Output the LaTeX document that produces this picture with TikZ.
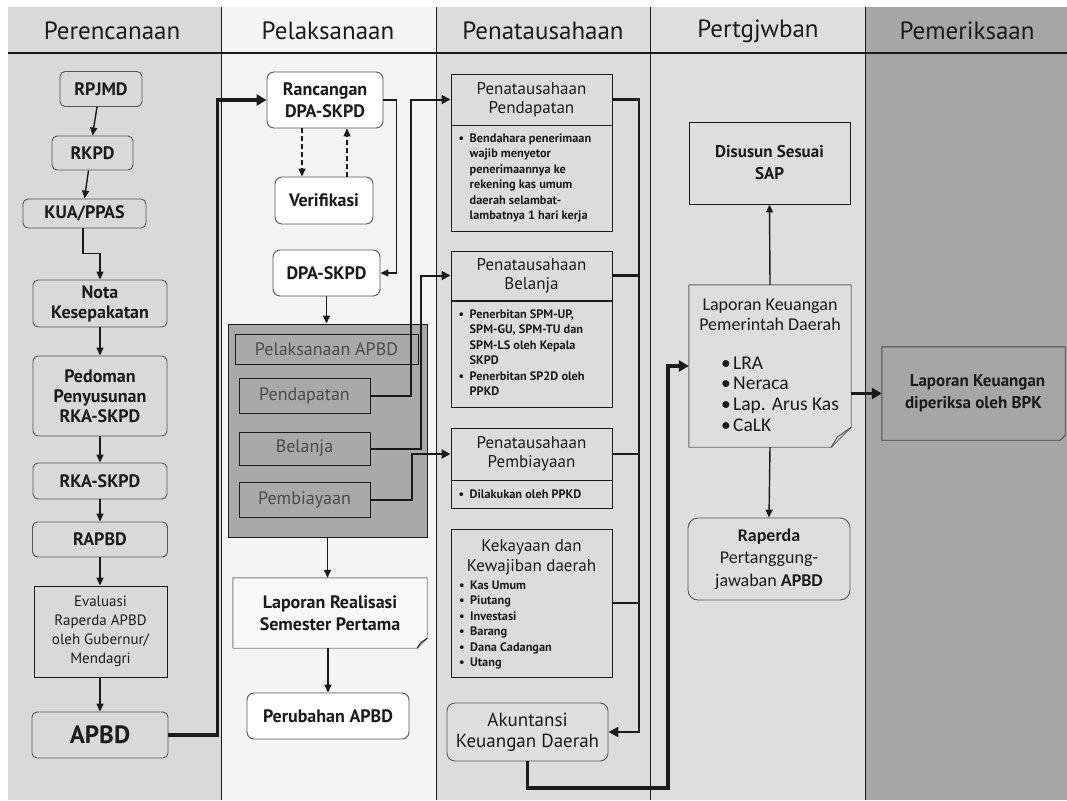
\documentclass[tikz,border=0pt]{standalone}
\usepackage{fontspec}
\setmainfont{PT Sans}
\newfontfamily\carl{Carlito}
\usetikzlibrary{arrows.meta,calc}
\pgfdeclarelayer{bg}
\pgfdeclarelayer{mid}
\pgfsetlayers{bg,mid,main}
\newcommand\fsz[2]{\fontsize{#1}{#2}\selectfont}
\newcommand\mybul{\makebox[11pt][l]{\textbullet}}
\newcommand\myind{\hspace*{11pt}}
\newcommand\lbul{\makebox[12pt][l]{\textbullet}}
\definecolor{cA}{HTML}{D9D9D9}
\definecolor{cB}{HTML}{F4F4F4}
\definecolor{cC}{HTML}{DCDCDC}
\definecolor{cD}{HTML}{DEDEDE}
\definecolor{cE}{HTML}{A6A6A6}
\definecolor{cP}{HTML}{A9A9A9}
\definecolor{tx}{HTML}{1A1A1A}
\definecolor{bd}{HTML}{555555}
\definecolor{gtx}{HTML}{4A4A4A}
\begin{document}
\begin{tikzpicture}[x=1pt,y=-1pt,
  every node/.style={inner sep=0pt,text=tx},
  sz/.style 2 args={minimum width=#1pt,minimum height=#2pt},
  ar/.style={draw=tx,line width=1.4pt,-{Triangle[length=8pt,width=7pt]}},
  mar/.style={draw=tx,line width=2pt,-{Triangle[length=9pt,width=9pt]}},
  tar/.style={draw=tx,line width=3.3pt,-{Triangle[length=10pt,width=11pt]}},
  ln/.style={draw=tx,line width=2.4pt},
  hdr/.style={font=\fsz{25}{28}},
  c1box/.style={draw=bd,line width=0.9pt,fill=cA,rounded corners=5pt,align=center,font={\bfseries\fsz{18}{20}}},
  c2box/.style={draw=bd,line width=0.9pt,fill=white,rounded corners=7pt,align=center,font={\bfseries\fsz{18}{22}}},
  pelsub/.style={draw=tx,line width=1pt,fill=cP,text=gtx,font={\fsz{18}{20}}},
  phd/.style={draw=tx,line width=1pt,fill=cC,align=center,font={\fsz{17}{19}}},
  pbd/.style={draw=tx,line width=1pt,fill=cC},
  blist/.style={anchor=west,align=left,font={\bfseries\fsz{12.3}{15.5}}},
  docfill/.style={line width=0.9pt,line join=round}
]
\useasboundingbox (0,0) rectangle (1067,800);
\begin{pgfonlayer}{bg}
\fill[white] (0,0) rectangle (1067,800);
\fill[cA] (8,7) rectangle (221,800);
\fill[cB] (221,7) rectangle (436,800);
\fill[cC] (436,7) rectangle (650,800);
\fill[cD] (650,7) rectangle (865,800);
\fill[cE] (865,7) rectangle (1067,800);
\draw[tx,line width=0.8pt] (221,7) -- (221,800) (436,7) -- (436,800) (650,7) -- (650,800) (865,7) -- (865,800);
\draw[tx,line width=1.6pt] (8,53) -- (1067,53);
\end{pgfonlayer}
% headers
\node[hdr] (h1) at (112,31) {Perencanaan};
\node[hdr] (h2) at (328,31) {Pelaksanaan};
\node[hdr] (h3) at (543,31) {Penatausahaan};
\node[hdr] (h4) at (758,31) {Pertgjwban};
\node[hdr] (h5) at (967,31) {Pemeriksaan};
% column 1
\node[c1box,sz={82}{35}] (rpjmd) at (101,89) {RPJMD};
\node[c1box,sz={81}{34}] (rkpd) at (92.5,153) {RKPD};
\node[c1box,sz={123}{29}] (kua) at (84.5,213.5) {KUA/PPAS};
\node[c1box,sz={134}{47}] (nota) at (100,303.5) {Nota\\Kesepakatan};
\node[c1box,sz={134}{80}] (pedo) at (100,396) {Pedoman\\Penyusunan\\RKA-SKPD};
\node[c1box,sz={134}{36}] (rka) at (100,481) {RKA-SKPD};
\node[c1box,sz={135}{35}] (rapbd) at (100,539.5) {RAPBD};
\node[c1box,sharp corners,draw=tx,font={\fsz{15}{19}},sz={133}{91}] (eval) at (100.5,631.5) {Evaluasi\\Raperda APBD\\oleh Gubernur/\\Mendagri};
\node[c1box,font={\bfseries\fsz{25}{28}},sz={136}{46}] (apbd) at (100,735) {APBD};
% column 2
\node[c2box,sz={116}{56}] (ranc) at (325,100) {Rancangan\\DPA-SKPD};
\node[c2box,sz={98}{47}] (verif) at (324,200.5) {Verifikasi};
\node[c2box,sz={107}{46}] (dpa) at (326.5,273) {DPA-SKPD};
\node[draw=tx,line width=1pt,fill=cP,sz={199}{213}] (pel) at (327.5,430.5) {};
\node[pelsub,sz={183}{30}] (pelapbd) at (326.5,349) {Pelaksanaan APBD};
\node[pelsub,sz={131}{35}] (pend) at (304.5,395.5) {Pendapatan};
\node[pelsub,sz={131}{33}] (bel) at (304.5,448.5) {Belanja};
\node[pelsub,sz={131}{35}] (pemb) at (304.5,499.5) {Pembiayaan};
\node[align=center,font={\bfseries\fsz{18}{22}},sz={194}{70}] (lrs) at (330,613) {Laporan Realisasi\\Semester Pertama};
\node[c2box,sz={162}{46}] (perub) at (328,716) {Perubahan APBD};
% column 3
\node[phd,sz={161}{51}] (ppdh) at (531.5,99.5) {Penatausahaan\\Pendapatan};
\node[pbd,sz={161}{106}] (ppdb) at (531.5,178) {};
\node[blist] (ppdt) at ([xshift=8pt]ppdb.west) {\mybul Bendahara penerimaan\\\myind wajib menyetor\\\myind penerimaannya ke\\\myind rekening kas umum\\\myind daerah selambat-\\\myind lambatnya 1 hari kerja};
\node[phd,sz={161}{49}] (pblh) at (531.5,275.5) {Penatausahaan\\Belanja};
\node[pbd,sz={161}{107}] (pblb) at (531.5,353.5) {};
\draw[tx,line width=2pt] (pblh.south west) -- (pblh.south east);
\node[blist] (pblt) at ([xshift=8pt,yshift=1pt]pblb.west) {\mybul Penerbitan SPM-UP,\\\myind SPM-GU, SPM-TU dan\\\myind SPM-LS oleh Kepala\\\myind SKPD\\\mybul Penerbitan SP2D oleh\\\myind PPKD};
\node[phd,sz={161}{52}] (ppbh) at (531.5,454) {Penatausahaan\\Pembiayaan};
\node[pbd,sz={161}{28}] (ppbb) at (531.5,494) {};
\node[blist] (ppbt) at ([xshift=8pt]ppbb.west) {\mybul Dilakukan oleh PPKD};
\node[pbd,sz={161}{148}] (kek) at (531.5,603) {};
\node[align=center,font={\fsz{17}{20}}] (kekt) at (531.5,557) {Kekayaan dan\\Kewajiban daerah};
\node[blist] (kekl) at (459,625) {\mybul Kas Umum\\\mybul Piutang\\\mybul Investasi\\\mybul Barang\\\mybul Dana Cadangan\\\mybul Utang};
\node[draw=bd,line width=0.9pt,fill=cC!90!white,rounded corners=8pt,align=center,font={\fsz{19}{21}},sz={161}{58}] (aku) at (527.5,732) {Akuntansi\\Keuangan Daerah};
% column 4
\node[draw=tx,line width=0.9pt,fill=cD,align=center,font={\bfseries\fsz{17}{22}},sz={161}{82}] (sap) at (769.5,163) {Disusun Sesuai\\SAP};
\node[sz={162}{162}] (lkpd) at (770,366) {};
\node[align=center,font={\carl\fsz{18}{20}}] (lkpdt) at (770,315) {Laporan Keuangan\\Pemerintah Daerah};
\node[anchor=west,align=left,font={\carl\fsz{19.5}{20.7}}] (lkpdl) at (721,394) {\lbul LRA\\\lbul Neraca\\\lbul Lap. Arus Kas\\\lbul CaLK};
\node[draw=bd,line width=0.9pt,fill=cD,rounded corners=10pt,align=center,font={\carl\fsz{18}{22.5}},sz={162}{82}] (rap) at (769,559) {\textbf{Raperda}\\Pertanggung-\\jawaban \textbf{APBD}};
% column 5
\node[align=center,font={\bfseries\fsz{17}{22}},sz={183}{93}] (lkb) at (973.5,393.5) {\hspace*{8pt}Laporan Keuangan\\diperiksa oleh BPK};
% document shapes
\begin{pgfonlayer}{mid}
\draw[docfill,draw=gray,fill=cB!60!white] (lrs.north west) -- (lrs.north east) -- ([yshift=10pt]lrs.south east) -- ([xshift=-10pt]lrs.south east) -- (lrs.south west) -- cycle;
\draw[docfill,draw=tx] ([yshift=10pt]lrs.south east) -- ([xshift=-7pt,yshift=5pt]lrs.south east) -- ([xshift=-10pt]lrs.south east);
\draw[docfill,draw=gray!80!black,fill=cD] (lkpd.north west) -- (lkpd.north east) -- ([yshift=20pt]lkpd.south east) -- ([xshift=-20pt]lkpd.south east) -- (lkpd.south west) -- cycle;
\draw[docfill,draw=gray!60!black] ([yshift=20pt]lkpd.south east) -- ([xshift=-14pt,yshift=10pt]lkpd.south east) -- ([xshift=-20pt]lkpd.south east);
\draw[docfill,draw=tx!80,fill=cE] (lkb.north west) -- (lkb.north east) -- ([yshift=5pt]lkb.south east) -- ([xshift=-5pt]lkb.south east) -- (lkb.south west) -- cycle;
\end{pgfonlayer}
% connectors column 1
\draw[ar] ([xshift=-4pt]rpjmd.south) -- (rkpd.north);
\draw[ar] ([xshift=-4pt]rkpd.south) -- (kua.north);
\draw[ar] ([xshift=-1.5pt]kua.south) -- ++(0,25) -| (nota.north);
\draw[ar] (nota.south) -- (pedo.north);
\draw[ar] (pedo.south) -- (rka.north);
\draw[ar] (rka.south) -- (rapbd.north);
\draw[ar] (rapbd.south) -- (rapbd.south |- eval.north);
\draw[ar] (apbd.north |- eval.south) -- (apbd.north);
\draw[tar] (apbd.east) -- ++(49,0) |- (ranc.west);
% column 2
\draw[ar,dash pattern=on 5pt off 3pt] ([xshift=-23pt]ranc.south) -- ([xshift=-22pt]verif.north);
\draw[ar,dash pattern=on 5pt off 3pt] ([xshift=23pt]verif.north) -- ([xshift=22pt]ranc.south);
\draw[ar] (ranc.east) -- ++(13,0) |- (dpa.east);
\draw[ar] (dpa.south) -- (dpa.south |- pel.north);
\draw[mar] (pend.east) -- ++(40,0) |- (ppdh.west);
\draw[mar] (bel.east) -- ++(50,0) |- (pblh.west);
\draw[mar] (pemb.east) -- ++(41,0) |- (ppbh.west);
\draw[ar] (pel.south) -- (pel.south |- lrs.north);
\draw[ar] (perub.north |- lrs.south) -- (perub.north);
% column 3 bus
\coordinate (bus) at (639,732);
\draw[ln,-{Triangle[length=10pt,width=10pt]}] (ppdh.east) -| (bus) -- (aku.east);
\draw[ln] (pblh.east) -- (pblh.east -| bus);
\draw[ln] (ppbh.east) -- (ppbh.east -| bus);
\draw[ln] (kek.east) -- (kek.east -| bus);
\coordinate (akt) at (668,788);
\draw[tar] (aku.south) |- (akt) |- (lkpd.west);
% column 4
\draw[ar] (lkpd.north) -- (sap.south);
\draw[ar] (lkpd.south) -- (rap.north);
\draw[tar] (lkpd.east |- lkb.west) -- (lkb.west);
\end{tikzpicture}
\end{document}
